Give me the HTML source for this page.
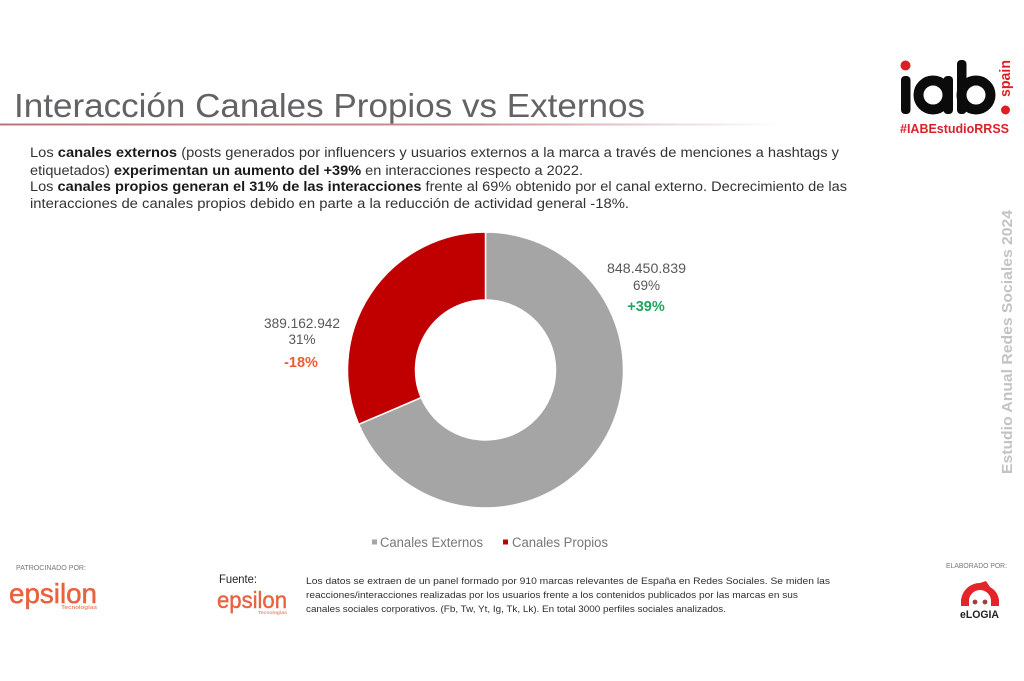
<!DOCTYPE html>
<html lang="es">
<head>
<meta charset="utf-8">
<title>Interacción Canales Propios vs Externos</title>
<style>
html,body{margin:0;padding:0;background:#fff;width:1024px;height:681px;overflow:hidden}
svg{display:block;font-family:"Liberation Sans",sans-serif}
</style>
</head>
<body>
<svg id="slide" width="1024" height="681" viewBox="0 0 1024 681" xmlns="http://www.w3.org/2000/svg">
  <defs>
    <linearGradient id="underlineFade" gradientUnits="userSpaceOnUse" x1="0" y1="0" x2="780" y2="0">
      <stop offset="0" stop-color="#b9747c"/>
      <stop offset="0.6" stop-color="#c98f95"/>
      <stop offset="1" stop-color="#ffffff"/>
    </linearGradient>
  </defs>
  <rect width="1024" height="681" fill="#ffffff"/>

  <text x="14" y="117" font-size="33" fill="#636365" textLength="631" lengthAdjust="spacingAndGlyphs">Interacción Canales Propios vs Externos</text>
  <rect x="0" y="123.5" width="780" height="2" fill="url(#underlineFade)"/>

  <g font-size="13.5" fill="#333333">
    <text x="30" y="157" textLength="809" lengthAdjust="spacingAndGlyphs">Los <tspan font-weight="bold" fill="#1a1a1a">canales externos</tspan> (posts generados por influencers y usuarios externos a la marca a través de menciones a hashtags y</text>
    <text x="30" y="175" textLength="553" lengthAdjust="spacingAndGlyphs">etiquetados) <tspan font-weight="bold" fill="#1a1a1a">experimentan un aumento del +39%</tspan> en interacciones respecto a 2022.</text>
    <text x="30" y="191" textLength="817" lengthAdjust="spacingAndGlyphs">Los <tspan font-weight="bold" fill="#1a1a1a">canales propios generan el 31% de las interacciones</tspan> frente al 69% obtenido por el canal externo. Decrecimiento de las</text>
    <text x="30" y="208" textLength="599" lengthAdjust="spacingAndGlyphs">interacciones de canales propios debido en parte a la reducción de actividad general  -18%.</text>
  </g>

  <g id="donut"></g>

  <g text-anchor="middle" font-size="13.5" fill="#58585a">
    <text x="646.5" y="273" textLength="79" lengthAdjust="spacingAndGlyphs">848.450.839</text>
    <text x="646.5" y="290">69%</text>
    <text x="646" y="311" font-size="14.5" font-weight="bold" fill="#1fa65a">+39%</text>
  </g>
  <g text-anchor="middle" font-size="13.5" fill="#58585a">
    <text x="302" y="328" textLength="76" lengthAdjust="spacingAndGlyphs">389.162.942</text>
    <text x="302" y="344">31%</text>
    <text x="301" y="367" font-size="14.5" font-weight="bold" fill="#ee5a34">-18%</text>
  </g>

  <g font-size="13.5" fill="#77777a">
    <g>
      <rect x="372" y="539.5" width="5" height="5" fill="#a5a5a5"/>
      <text x="380" y="547" textLength="103" lengthAdjust="spacingAndGlyphs">Canales Externos</text>
    </g>
    <g>
      <rect x="503" y="539.5" width="5" height="5" fill="#c00000"/>
      <text x="512" y="547" textLength="96" lengthAdjust="spacingAndGlyphs">Canales Propios</text>
    </g>
  </g>

  <g>
    <circle cx="905.5" cy="65.5" r="5" fill="#dc1f26"/>
    <rect x="901" y="76" width="9.5" height="38" rx="4" fill="#0b0b0b"/>
    <circle cx="933" cy="95" r="14.5" fill="none" stroke="#0b0b0b" stroke-width="10"/>
    <rect x="943.5" y="76" width="9.5" height="38" rx="4" fill="#0b0b0b"/>
    <circle cx="976" cy="95" r="14.5" fill="none" stroke="#0b0b0b" stroke-width="10"/>
    <rect x="957" y="60" width="9.5" height="54" rx="4" fill="#0b0b0b"/>
    <text transform="translate(1010,97) rotate(-90)" font-size="15" font-weight="bold" fill="#dc1f26" textLength="37" lengthAdjust="spacingAndGlyphs">spain</text>
    <circle cx="1005.5" cy="110" r="4.5" fill="#dc1f26"/>
    <text x="900" y="133" font-size="12.5" font-weight="bold" fill="#d8232a" textLength="109" lengthAdjust="spacingAndGlyphs">#IABEstudioRRSS</text>
  </g>

  <text transform="translate(1012,474) rotate(-90)" font-size="14.5" font-weight="bold" fill="#c3c3c3" textLength="264" lengthAdjust="spacingAndGlyphs">Estudio Anual Redes Sociales 2024</text>

  <g>
    <text x="16" y="570" font-size="7" fill="#77777a" textLength="70" lengthAdjust="spacingAndGlyphs">PATROCINADO POR:</text>
    <text x="9" y="603" font-size="28" fill="#e8623f" stroke="#e8623f" stroke-width="0.5" textLength="88" lengthAdjust="spacingAndGlyphs">epsilon</text>
    <text x="61" y="609" font-size="5.5" fill="#e8623f" textLength="36" lengthAdjust="spacingAndGlyphs">Tecnologías</text>
  </g>

  <g>
    <text x="219" y="583" font-size="11.5" fill="#222" textLength="38" lengthAdjust="spacingAndGlyphs">Fuente:</text>
    <text x="217" y="608" font-size="23" fill="#e8623f" stroke="#e8623f" stroke-width="0.4" textLength="70" lengthAdjust="spacingAndGlyphs">epsilon</text>
    <text x="258" y="614" font-size="4.5" fill="#e8623f" textLength="29" lengthAdjust="spacingAndGlyphs">Tecnologías</text>
  </g>

  <g font-size="9.5" fill="#2f2f2f">
    <text x="306" y="584" textLength="524" lengthAdjust="spacingAndGlyphs">Los datos se extraen de un panel formado por 910 marcas relevantes de España en Redes Sociales. Se miden las</text>
    <text x="306" y="598" textLength="492" lengthAdjust="spacingAndGlyphs">reacciones/interacciones realizadas por los usuarios frente a los contenidos publicados por las marcas en sus</text>
    <text x="306" y="612" textLength="420" lengthAdjust="spacingAndGlyphs">canales sociales corporativos. (Fb, Tw, Yt, Ig, Tk, Lk). En total 3000 perfiles sociales analizados.</text>
  </g>

  <g>
    <text x="946" y="568" font-size="7" fill="#77777a" textLength="61" lengthAdjust="spacingAndGlyphs">ELABORADO POR:</text>
    <path d="M961 606 V600 A19 19 0 0 1 980 583 L986 581 L990 587 A18 18 0 0 1 999 600 V606 H991 V601 A11 11 0 0 0 969 601 V606 Z" fill="#e3242b"/>
    <circle cx="975" cy="602" r="2.4" fill="#a83a3e"/>
    <circle cx="985" cy="602" r="2.4" fill="#a83a3e"/>
    <text x="960" y="618" font-size="11" font-weight="bold" fill="#222" textLength="39" lengthAdjust="spacingAndGlyphs">eLOGIA</text>
  </g>
</svg>

<script>
const categories = ['Canales Externos', 'Canales Propios'];
const seriesValues = [848450839, 389162942];
const sliceColors = ['#a5a5a5', '#c00000'];

const centerX = 485.5;
const centerY = 370;
const outerRadius = 138;
const innerRadius = 70;

function angleScale(fraction) {
  return -Math.PI / 2 + fraction * 2 * Math.PI;
}
function polar(radius, angle) {
  return (centerX + radius * Math.cos(angle)).toFixed(2) + ' ' + (centerY + radius * Math.sin(angle)).toFixed(2);
}

const donutGroup = document.getElementById('donut');
const seriesTotal = seriesValues.reduce((a, b) => a + b, 0);
let cumulative = 0;
seriesValues.forEach((value, i) => {
  const start = angleScale(cumulative / seriesTotal);
  cumulative += value;
  const end = angleScale(cumulative / seriesTotal);
  const large = end - start > Math.PI ? 1 : 0;
  const slice = document.createElementNS('http://www.w3.org/2000/svg', 'path');
  slice.setAttribute('d',
    'M' + polar(outerRadius, start) +
    ' A' + outerRadius + ' ' + outerRadius + ' 0 ' + large + ' 1 ' + polar(outerRadius, end) +
    ' L' + polar(innerRadius, end) +
    ' A' + innerRadius + ' ' + innerRadius + ' 0 ' + large + ' 0 ' + polar(innerRadius, start) + ' Z');
  slice.setAttribute('fill', sliceColors[i]);
  slice.setAttribute('stroke', '#ffffff');
  slice.setAttribute('stroke-width', '1.5');
  
  
  donutGroup.appendChild(slice);
});
</script>
</body>
</html>
